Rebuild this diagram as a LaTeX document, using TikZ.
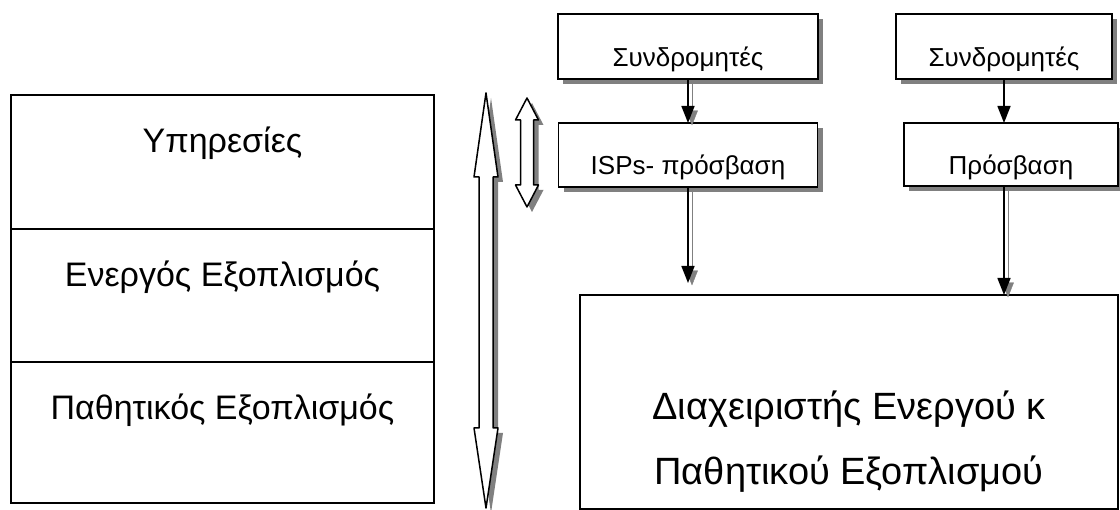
\documentclass[tikz,border=0pt]{standalone}
\usepackage{fontspec}
\setmainfont{Liberation Sans}
\usetikzlibrary{
  arrows.meta,
  positioning,
  shadows,
}
\definecolor{shadowgray}{gray}{0.5}
\tikzset{
  >={Triangle[width=13pt,length=17pt]},
  layer/.style={draw, fill=white, line width=1.5pt, inner sep=0pt, outer sep=0pt,
    minimum width=423pt, text height=58pt, font=\fontsize{34pt}{40pt}\selectfont},
  actor/.style={draw, fill=white, line width=1.5pt, inner sep=0pt, outer sep=0pt,
    font=\fontsize{26pt}{30pt}\selectfont,
    drop shadow={shadow xshift=5pt, shadow yshift=-5pt, fill=shadowgray, opacity=1}},
  manager/.style={draw, fill=white, line width=1.5pt, inner sep=0pt, outer sep=0pt,
    align=center, font=\fontsize{38pt}{65pt}\selectfont},
  flow/.style={->, line width=1.5pt},
  flowshadow/.style={preaction={draw=shadowgray, transform canvas={shift={(4pt,-4pt)}}}},
  band/.style={draw, fill=white, line width=1.5pt, line join=round,
    drop shadow={shadow xshift=5pt, shadow yshift=-5pt, fill=shadowgray, opacity=1}},
}
\begin{document}
\begin{tikzpicture}[x=1pt, y=-1pt]
  \useasboundingbox (0,0) rectangle (1120,510);
  \node[layer, anchor=north, text depth=76pt] (services) at (222.5,95) {Υπηρεσίες};
  \node[layer, below=0pt of services, text depth=75pt] (active) {Ενεργός Εξοπλισμός};
  \node[layer, below=0pt of active, text depth=83pt] (passive) {Παθητικός Εξοπλισμός};

  \foreach \ax/\at/\ah/\al/\ab/\aw/\as in {486/93/177/428/508/12/7, 527/98/120/185/207/11.5/6.5}
  {
    \draw[band] (\ax,\at) -- (\ax+\aw,\ah) -- (\ax+\as,\ah) -- (\ax+\as,\al) -- (\ax+\aw,\al)
      -- (\ax,\ab) -- (\ax-\aw,\al) -- (\ax-\as,\al) -- (\ax-\as,\ah) -- (\ax-\aw,\ah) -- cycle;
  }

  \node[actor, anchor=north, minimum width=260pt, text height=53pt, text depth=12pt] (subs1) at (688,14) {Συνδρομητές};
  \node[actor, below=44pt of subs1, minimum width=259pt, text height=52pt, text depth=12pt] (isp) {ISPs- πρόσβαση};
  \node[actor, anchor=north, minimum width=216pt, text height=53pt, text depth=12pt] (subs2) at (1004,14) {Συνδρομητές};
  \node[actor, anchor=north, minimum width=214pt, text height=52pt, text depth=11pt] (access) at (1011,123) {Πρόσβαση};
  \node[manager, anchor=north, minimum width=538pt, text height=190pt, text depth=24pt] (mgr) at (849,295)
    {Διαχειριστής Ενεργού κ\\Παθητικού Εξοπλισμού};

  \coordinate (ispend) at (688,283);
  \draw[flow, flowshadow] (subs1.south) -- (isp.north);
  \draw[flow, flowshadow] (isp.south) -- (ispend);
  \draw[flow] (subs2.south) -- (subs2.south |- access.north);
  \draw[flow, flowshadow] (subs2.south |- access.south) -- (subs2.south |- mgr.north);
\end{tikzpicture}
\end{document}
